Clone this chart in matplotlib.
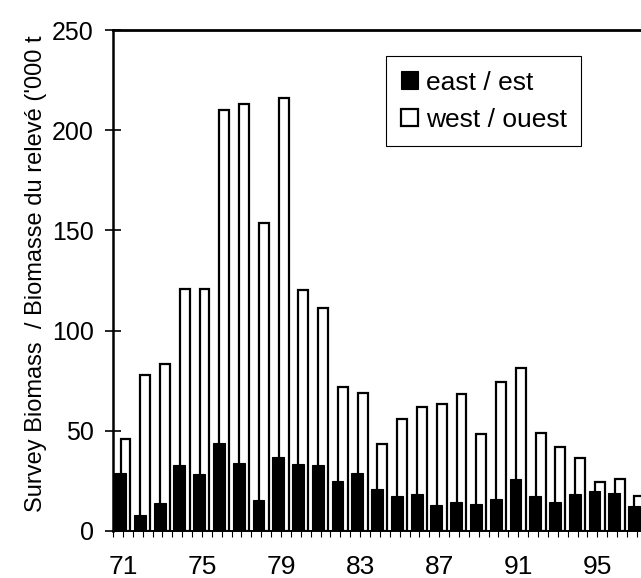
import matplotlib
matplotlib.use('Agg')
import matplotlib.pyplot as plt
import numpy as np

plt.rcParams['font.family'] = ['Liberation Sans', 'DejaVu Sans']

years = np.arange(71, 98)
east = [29, 8, 14, 33, 28.5, 44, 34, 15.5, 37, 33.5, 33, 25, 29, 21,
        17.6, 18.6, 12.8, 14.5, 13.5, 16.1, 26.1, 17.6, 14.3, 18.5, 20.1, 19.1, 12.5]
west = [46, 78, 83.5, 121, 121, 210, 213, 153.7, 216, 120.5, 111.5, 72, 68.7, 43.4,
        55.7, 61.7, 63.4, 68.4, 48.2, 74.5, 81.2, 48.7, 42, 36.2, 24.3, 26.1, 17.5]
label_years = [71, 75, 79, 83, 87, 91, 95]

fig = plt.figure(figsize=(6.41, 5.78), dpi=100)
ax = fig.add_axes([113/641, 47/578, 528/641, 501/578])

ax.bar(years + 0.13, west, width=0.5, color='white', edgecolor='black',
       linewidth=1.6, zorder=2, label='west / ouest')
ax.bar(years - 0.14, east, width=0.6, color='black', edgecolor='black',
       linewidth=0.8, zorder=3, label='east / est')

ax.set_xlim(70.545, 97.21)
ax.set_ylim(0, 250)

ax.spines['right'].set_visible(False)
ax.spines['top'].set_linewidth(2)
ax.spines['left'].set_linewidth(1.8)
ax.spines['bottom'].set_linewidth(1.4)

ax.set_xticks(label_years)
ax.set_xticklabels([str(y) for y in label_years], fontsize=19)
ax.set_xticks(np.arange(70.5, 97.5, 0.5), minor=True)
ax.tick_params(axis='x', which='both', direction='out', length=4, width=0.8, pad=13)

ax.set_yticks([0, 50, 100, 150, 200, 250])
ax.tick_params(axis='y', direction='inout', length=12, width=1.2, labelsize=18, pad=8)

ax.set_ylabel("Survey Biomass  / Biomasse du relevé ('000 t", fontsize=17)
ax.yaxis.set_label_coords(-0.125, 0.513)

handles, labels = ax.get_legend_handles_labels()
leg = ax.legend(handles[::-1], labels[::-1], loc='upper left',
                bbox_to_anchor=(273/528, 1 - 26/501), borderaxespad=0,
                fontsize=19, frameon=True, fancybox=False, framealpha=1,
                edgecolor='black', handlelength=0.65, handleheight=0.65,
                handletextpad=0.3, borderpad=0.55, labelspacing=0.5)
leg.get_frame().set_linewidth(0.8)

fig.savefig('out.png', dpi=100)
